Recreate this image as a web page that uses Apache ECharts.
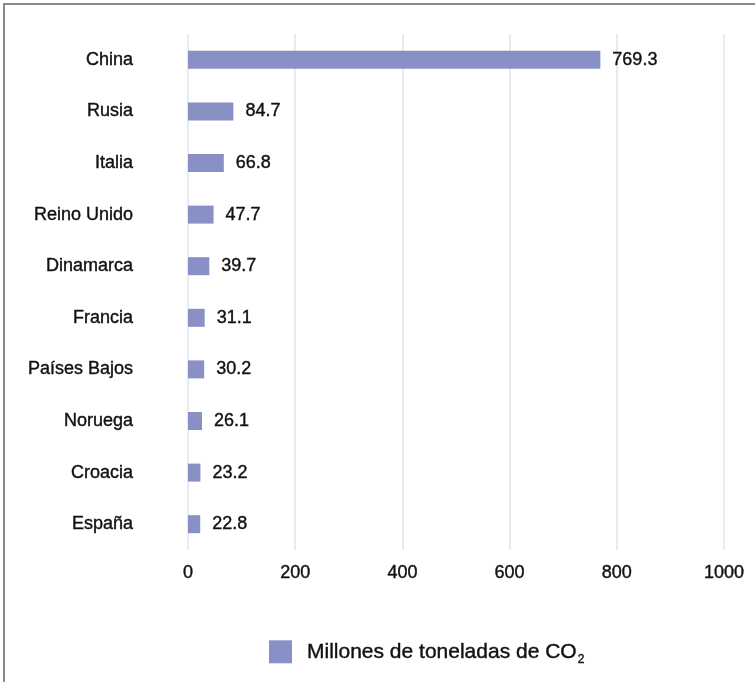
<!DOCTYPE html>
<html>
<head>
<meta charset="utf-8">
<script src="https://cdn.jsdelivr.net/npm/echarts@6/dist/echarts.min.js"></script>
<style>
  html, body { margin: 0; padding: 0; background: #fff; }
  .frame {
    position: absolute; left: 3px; top: 3px; width: 900px; height: 900px;
    border-top: 2px solid #8a8a8a; border-left: 2px solid #8a8a8a;
  }
  .echart { position: absolute; left: 0; top: 0; width: 755px; height: 682px; }
</style>
</head>
<body>
<div class="frame"></div>
<div class="echart" id="chart"></div>
<script>
// categories, top to bottom as in the picture
const countries = ["China", "Rusia", "Italia", "Reino Unido", "Dinamarca", "Francia", "Países Bajos", "Noruega", "Croacia", "España"];
// Millones de toneladas de CO2
const emissions = [769.3, 84.7, 66.8, 47.7, 39.7, 31.1, 30.2, 26.1, 23.2, 22.8];
const seriesName = "Millones de toneladas de CO2";

const barColor = "#8890c6";
const textColor = "#111";
const font = "'Liberation Sans', Arial, sans-serif";
// slight stroke to get the medium weight of the original
const medium = { textBorderColor: textColor, textBorderWidth: 0.4 };

const echart = echarts.init(document.getElementById("chart"));

let options = {
  animation: false,
  grid: {
    left: 188,
    right: 31,
    top: 34,
    bottom: 132,
    containLabel: false,
  },
  legend: {
    show: true,
    bottom: 11,
    left: 264,
    itemWidth: 23,
    itemHeight: 23,
    itemGap: 10,
    icon: "rect",
    formatter: () => "Millones de toneladas de CO{sub|2}",
    textStyle: {
      color: textColor,
      fontFamily: font,
      fontSize: 21,
      padding: [0, 0, 0, 10],
      ...medium,
      rich: {
        sub: { fontSize: 12, color: textColor, fontFamily: font, padding: [16, 0, 0, 1], ...medium },
      },
    },
  },
  xAxis: {
    type: "value",
    min: 0,
    max: 1000,
    interval: 200,
    splitLine: {
      show: true,
      lineStyle: { color: "#e2e2e8", width: 1.5 },
    },
    axisLine: { show: false },
    axisTick: { show: false },
    axisLabel: {
      show: true,
      color: textColor,
      fontFamily: font,
      fontSize: 18,
      margin: 14,
      ...medium,
      formatter: (v) => String(v),
    },
  },
  yAxis: {
    type: "category",
    data: countries,
    inverse: true,
    axisLine: { show: false },
    axisTick: { show: false },
    splitLine: { show: false },
    axisLabel: {
      show: true,
      color: textColor,
      fontFamily: font,
      fontSize: 18,
      margin: 55,
      ...medium,
    },
  },
  series: [
    {
      name: seriesName,
      type: "bar",
      data: emissions,
      barWidth: 18,
      itemStyle: { color: barColor },
      label: {
        show: true,
        position: "right",
        distance: 12,
        color: textColor,
        fontFamily: font,
        fontSize: 18,
        ...medium,
        formatter: (p) => p.value.toFixed(1),
      },
    },
  ],
};
echart.setOption(options);
</script>
</body>
</html>
